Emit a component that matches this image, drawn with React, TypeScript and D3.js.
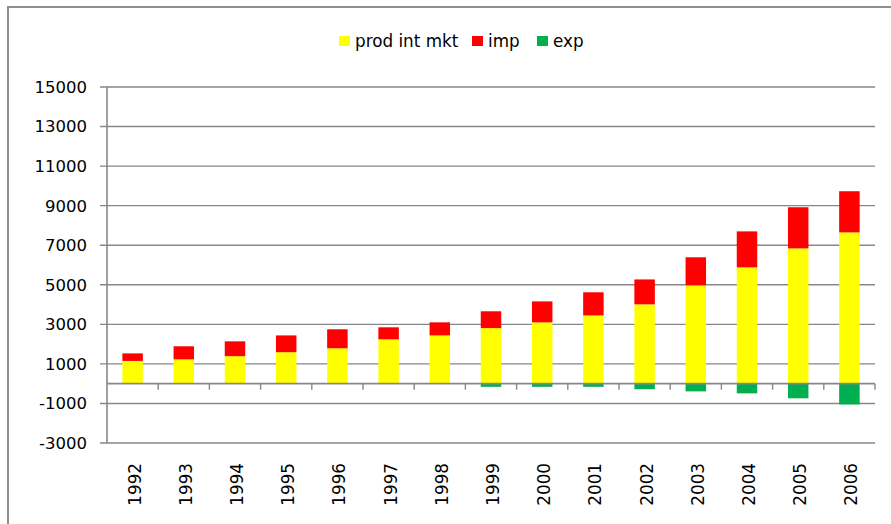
import React, { useEffect, useRef } from 'react';
import * as d3 from 'd3';

const years = ['1992', '1993', '1994', '1995', '1996', '1997', '1998', '1999', '2000', '2001', '2002', '2003', '2004', '2005', '2006'];
const prodIntMkt = [1150, 1230, 1390, 1590, 1790, 2240, 2440, 2810, 3100, 3450, 4010, 4970, 5880, 6840, 7650];
const imp = [380, 660, 750, 850, 960, 610, 660, 850, 1060, 1170, 1260, 1420, 1820, 2080, 2080];
const exp = [0, 0, 0, 0, 0, 0, 0, -160, -160, -160, -280, -390, -490, -740, -1050];
const yTicks = [-3000, -1000, 1000, 3000, 5000, 7000, 9000, 11000, 13000, 15000];
const seriesNames = ['prod int mkt', 'imp', 'exp'];
const colors = ['#ffff00', '#ff0000', '#00b050'];

const App = () => {
  const svgRef = useRef<SVGSVGElement>(null);

  useEffect(() => {
    const svg = d3.select(svgRef.current);
    svg.selectAll('*').remove();
    const w = 891, h = 524;
    const left = 107, right = 875, top = 87, bottom = 443;
    const font = 'DejaVu Sans, Verdana, sans-serif';
    const grey = '#878787';

    // chart border (cut off on the right and bottom)
    svg.append('rect')
      .attr('x', 8).attr('y', 7)
      .attr('width', w + 20).attr('height', h + 20)
      .attr('fill', '#fff')
      .attr('stroke', '#8e8e8e')
      .attr('stroke-width', 2);

    const x = d3.scaleBand().domain(years).range([left, right]).paddingInner(0.6).paddingOuter(0.3);
    const y = d3.scaleLinear().domain([-3000, 15000]).range([bottom, top]);

    const rows = years.map((yr, i) => ({ year: yr, prod: prodIntMkt[i], imp: imp[i], exp: exp[i] }));
    const stack = d3.stack<any>().keys(['prod', 'imp', 'exp']).offset(d3.stackOffsetDiverging);
    const layers = stack(rows);

    // gridlines + y axis
    const grid = svg.append('g');
    grid.selectAll('line.grid')
      .data(yTicks)
      .enter()
      .append('line')
      .attr('x1', left - 7).attr('x2', right)
      .attr('y1', d => y(d)).attr('y2', d => y(d))
      .attr('stroke', grey)
      .attr('stroke-width', 1.4);
    grid.append('line')
      .attr('x1', left).attr('x2', left)
      .attr('y1', top).attr('y2', bottom)
      .attr('stroke', grey)
      .attr('stroke-width', 1.6);
    grid.selectAll('text')
      .data(yTicks)
      .enter()
      .append('text')
      .attr('x', 87)
      .attr('y', d => y(d))
      .attr('dy', '0.36em')
      .attr('text-anchor', 'end')
      .attr('font-family', font)
      .attr('font-size', 16.5)
      .attr('fill', '#000')
      .text(d => d);

    // bars
    svg.append('g')
      .selectAll('g')
      .data(layers)
      .enter()
      .append('g')
      .attr('fill', (d, i) => colors[i])
      .selectAll('rect')
      .data(d => d)
      .enter()
      .append('rect')
      .attr('x', d => x(d.data.year) as number)
      .attr('width', x.bandwidth())
      .attr('y', d => y(Math.max(d[0], d[1])))
      .attr('height', d => Math.abs(y(d[0]) - y(d[1])));

    // category axis at zero
    const y0 = y(0);
    svg.append('line')
      .attr('x1', left).attr('x2', right)
      .attr('y1', y0).attr('y2', y0)
      .attr('stroke', grey)
      .attr('stroke-width', 1.8);
    const step = x.step();
    svg.append('g')
      .selectAll('line')
      .data(d3.range(1, years.length + 1))
      .enter()
      .append('line')
      .attr('x1', i => left + i * step).attr('x2', i => left + i * step)
      .attr('y1', y0).attr('y2', y0 + 6)
      .attr('stroke', grey)
      .attr('stroke-width', 1.4);

    // year labels, low position
    svg.append('g')
      .selectAll('text')
      .data(years)
      .enter()
      .append('text')
      .attr('transform', d => `translate(${(x(d) as number) + x.bandwidth() / 2 + 2},463) rotate(-90)`)
      .attr('dy', '0.36em')
      .attr('text-anchor', 'end')
      .attr('font-family', font)
      .attr('font-size', 16.8)
      .attr('fill', '#000')
      .text(d => d);

    // legend
    const legendX = [339, 472, 537];
    const legend = svg.append('g')
      .selectAll('g')
      .data(seriesNames)
      .enter()
      .append('g')
      .attr('transform', (d, i) => `translate(${legendX[i]},36)`);
    legend.append('rect')
      .attr('width', 11).attr('height', 10)
      .attr('fill', (d, i) => colors[i]);
    legend.append('text')
      .attr('x', 16).attr('y', 10.5)
      .attr('font-family', font)
      .attr('font-size', 16.8)
      .attr('fill', '#000')
      .text(d => d);
  }, []);

  return (
    <svg ref={svgRef} width={891} height={524}
      style={{ position: 'absolute', left: 0, top: 0, display: 'block', background: '#fff' }} />
  );
};

export default App;
